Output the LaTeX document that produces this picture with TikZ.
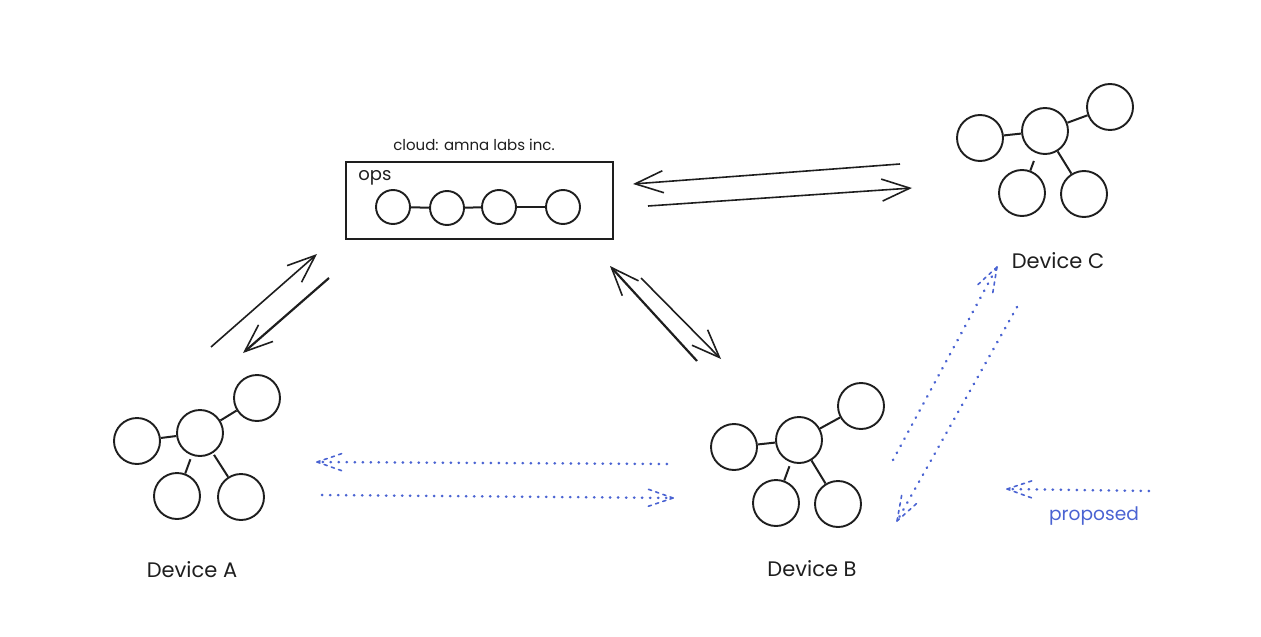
\documentclass[tikz,border=0pt]{standalone}
\usepackage{fontspec}
\setmainfont{Poppins}
\usetikzlibrary{arrows.meta,calc}

\definecolor{sketchblue}{HTML}{4A63D2}
\definecolor{sketchink}{HTML}{1E1E1E}

\tikzset{
  peer/.style={circle,draw=sketchink,line width=0.95pt,minimum size=23pt,inner sep=0pt},
  opspeer/.style={peer,minimum size=17pt},
  link/.style={draw=sketchink,line width=1pt},
  sync/.style={draw=sketchink,line width=0.8pt,-{Straight Barb[length=14pt,width=11pt,line width=0.8pt]}},
  heavysync/.style={sync,line width=1.1pt},
  proposal/.style={sketchblue,line width=1.3pt,line cap=round,dash pattern=on 0.2pt off 3.8pt},
  proposalhead/.style={sketchblue,line width=0.8pt,line cap=round,dash pattern=on 1.6pt off 2.2pt},
  devicelabel/.style={text=sketchink,font=\fontsize{10.5}{13}\selectfont}
}

% dotted arrow whose head is made of two short dashed strokes
\newcommand{\proposalarrow}[2]{
  \draw[proposal] (#1) -- (#2);
  \draw[proposalhead] (#2) -- ($(#2)!14pt!19:(#1)$);
  \draw[proposalhead] (#2) -- ($(#2)!14pt!-19:(#1)$);
}

\begin{document}
\begin{tikzpicture}[x=0.5pt,y=-0.5pt]

    % Fix the page to the size of the reference
    \useasboundingbox (0,0) rectangle (1261,636);

    % Cloud box with its four peers
    \node[draw=sketchink,line width=1.1pt,minimum width=133.5pt,minimum height=38.5pt,inner sep=0pt] (opsbox) at (479.5,200.5) {};
    \node[text=sketchink,font=\fontsize{7.5}{10}\selectfont] (cloudlabel) at (474,145) {cloud: amna labs inc.};
    \node[text=sketchink,font=\fontsize{9}{11}\selectfont] (opslabel) at (375,178) {ops};
    \node[opspeer] (opsa) at (393,207) {};
    \node[opspeer] (opsb) at (447,208) {};
    \node[opspeer] (opsc) at (499,207) {};
    \node[opspeer] (opsd) at (563,207) {};
    \draw[link] (opsa) -- (opsb);
    \draw[link] (opsb) -- (opsc);
    \draw[link] (opsc) -- (opsd);

    % Device A
    \node[peer] (al) at (137,441) {};
    \node[peer] (ac) at (200,433) {};
    \node[peer] (at) at (257,398) {};
    \node[peer] (ab) at (177,496) {};
    \node[peer] (ar) at (241,497) {};
    \draw[link] (ac) -- (al);
    \draw[link] (ac) -- (at);
    \draw[link,shorten <=2pt] (ac) -- (ab);
    \draw[link,shorten <=1pt] (ac) -- (ar);
    \node[devicelabel] (alabel) at (192,570) {Device A};

    % Device B
    \node[peer] (bl) at (734,447) {};
    \node[peer] (bc) at (799,440) {};
    \node[peer] (bt) at (861,406) {};
    \node[peer] (bb) at (776,503) {};
    \node[peer] (br) at (838,504) {};
    \draw[link] (bc) -- (bl);
    \draw[link] (bc) -- (bt);
    \draw[link,shorten <=2pt] (bc) -- (bb);
    \draw[link] (bc) -- (br);
    \node[devicelabel] (blabel) at (812,569) {Device B};

    % Device C
    \node[peer] (cl) at (980,138) {};
    \node[peer] (cc) at (1045,131) {};
    \node[peer] (ct) at (1110,107) {};
    \node[peer] (cb) at (1022,193) {};
    \node[peer] (cr) at (1084,194) {};
    \draw[link] (cc) -- (cl);
    \draw[link] (cc) -- (ct);
    \draw[link,shorten <=4pt] (cc) -- (cb);
    \draw[link] (cc) -- (cr);
    \node[devicelabel] (clabel) at (1058,261) {Device C};

    % Free ends of the solid arrows
    \coordinate (aup) at (211,347);
    \coordinate (auptip) at (317,254);
    \coordinate (adown) at (329,278);
    \coordinate (adowntip) at (243,353);
    \coordinate (bup) at (697,361);
    \coordinate (buptip) at (610,266);
    \coordinate (bdown) at (641,278);
    \coordinate (bdowntip) at (721,359);
    \coordinate (cin) at (900,164);
    \coordinate (cintip) at (633,184);
    \coordinate (cout) at (648,206);
    \coordinate (couttip) at (912,188);

    \draw[sync] (aup) -- (auptip);
    \draw[heavysync] (adown) -- (adowntip);
    \draw[heavysync] (bup) -- (buptip);
    \draw[sync] (bdown) -- (bdowntip);
    \draw[sync] (cin) -- (cintip);
    \draw[sync] (cout) -- (couttip);

    % Free ends of the dotted arrows
    \coordinate (abin) at (667,464);
    \coordinate (abintip) at (317,462);
    \coordinate (about) at (322,495);
    \coordinate (abouttip) at (673,498);
    \coordinate (bcup) at (893,460);
    \coordinate (bcuptip) at (997,267);
    \coordinate (bcdown) at (1017,307);
    \coordinate (bcdowntip) at (897,521);
    \coordinate (key) at (1149,491);
    \coordinate (keytip) at (1007,489);

    \proposalarrow{abin}{abintip}
    \proposalarrow{about}{abouttip}
    \proposalarrow{bcup}{bcuptip}
    \proposalarrow{bcdown}{bcdowntip}
    \proposalarrow{key}{keytip}

    \node[text=sketchblue,font=\fontsize{9.3}{12}\selectfont] (keylabel) at (1094,516) {proposed};

\end{tikzpicture}
\end{document}
